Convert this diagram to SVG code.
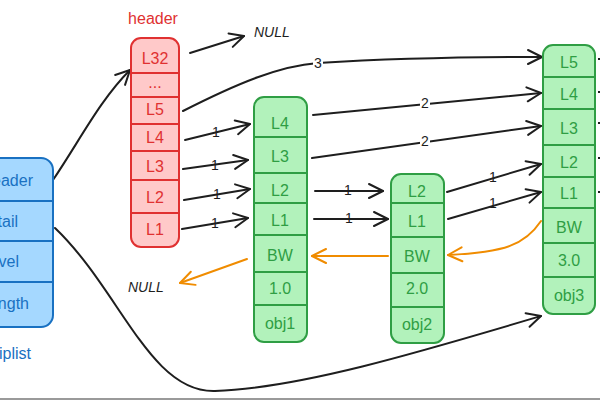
<svg xmlns="http://www.w3.org/2000/svg" width="600" height="400" viewBox="0 0 600 400">
<defs>
<style>
.t{font-family:"Liberation Sans","DejaVu Sans",sans-serif;font-size:16px;text-anchor:middle;dominant-baseline:central}
.blue rect{fill:#a5d8ff;stroke:#1971c2;stroke-width:2}
.blue line{stroke:#1971c2;stroke-width:2}
.blue text{fill:#1971c2}
.red rect{fill:#ffc9c9;stroke:#e03131;stroke-width:2}
.red line{stroke:#e03131;stroke-width:2}
.red text{fill:#e03131}
.green rect{fill:#b2f2bb;stroke:#2f9e44;stroke-width:2}
.green line{stroke:#2f9e44;stroke-width:2}
.green text{fill:#2f9e44}
.a{fill:none;stroke:#1e1e1e;stroke-width:2;stroke-linecap:round;marker-end:url(#ah)}
.o{fill:none;stroke:#f08c00;stroke-width:2;stroke-linecap:round;marker-end:url(#oh)}
.lb{font-family:"Liberation Sans","DejaVu Sans",sans-serif;font-size:14px;fill:#1e1e1e;text-anchor:middle;dominant-baseline:central}
.bg{fill:#ffffff}
.null{font-family:"Liberation Sans","DejaVu Sans",sans-serif;font-size:14px;fill:#1e1e1e;font-style:italic}
</style>
<marker id="ah" markerUnits="userSpaceOnUse" viewBox="0 0 18 18" markerWidth="18" markerHeight="18" refX="16" refY="9" orient="auto">
<path d="M2,2 L16,9 L2,16" fill="none" stroke="#1e1e1e" stroke-width="2" stroke-linecap="round" stroke-linejoin="round"/>
</marker>
<marker id="oh" markerUnits="userSpaceOnUse" viewBox="0 0 18 18" markerWidth="18" markerHeight="18" refX="16" refY="9" orient="auto">
<path d="M2,2 L16,9 L2,16" fill="none" stroke="#f08c00" stroke-width="2" stroke-linecap="round" stroke-linejoin="round"/>
</marker>
</defs>
<rect width="600" height="400" fill="#ffffff"/>

<g id="connectors">
<path class="a" d="M53,180 C80,140 100,100 130,70"/>
<path class="a" d="M55,228 C120,290 150,393 215,391 C300,388 420,352 541,316"/>
<path class="a" d="M190,53 L244,36"/>
<path class="a" d="M183,111 C240,82 280,66 318,63 C400,58 480,57 542,57"/>
<path class="a" d="M185,140 L250,124"/>
<path class="a" d="M183,169 L248,160"/>
<path class="a" d="M184,200 L250,189"/>
<path class="a" d="M182,229 L248,218"/>
<path class="a" d="M313,115 L541,93"/>
<path class="a" d="M312,158 L541,126"/>
<path class="a" d="M315,191 L383,191"/>
<path class="a" d="M314,219 L388,219"/>
<path class="a" d="M447,192 L541,164"/>
<path class="a" d="M448,219 L541,192"/>
<path class="o" d="M541,221 C525,245 505,252 448,255"/>
<path class="o" d="M388,256 L312,256"/>
<path class="o" d="M247,259 L180,283"/>
<g stroke="#1e1e1e" stroke-width="2">
<line x1="598" y1="59" x2="602" y2="59"/>
<line x1="598" y1="92" x2="602" y2="92"/>
<line x1="598" y1="123" x2="602" y2="123"/>
<line x1="598" y1="158" x2="602" y2="158"/>
<line x1="598" y1="192" x2="602" y2="192"/>
</g>
<rect class="bg" x="313" y="55" width="10" height="15"/><text class="lb" x="318" y="63">3</text>
<rect class="bg" x="420" y="96" width="10" height="15"/><text class="lb" x="425" y="103">2</text>
<rect class="bg" x="420" y="134" width="10" height="15"/><text class="lb" x="425" y="141">2</text>
<text class="lb" x="216" y="132">1</text>
<text class="lb" x="215" y="165">1</text>
<text class="lb" x="217" y="194">1</text>
<text class="lb" x="215" y="223">1</text>
<text class="lb" x="348" y="190">1</text>
<text class="lb" x="349" y="218">1</text>
<text class="lb" x="493" y="177">1</text>
<text class="lb" x="493" y="203">1</text>
</g>

<g id="null-top"><text class="null" x="254" y="37">NULL</text></g>
<g id="null-left"><text class="null" x="128" y="292">NULL</text></g>

<g id="zskiplist" class="blue">
<rect x="-45" y="158" width="98" height="169" rx="12"/>
<line x1="-45" y1="201" x2="53" y2="201"/>
<line x1="-45" y1="241" x2="53" y2="241"/>
<line x1="-45" y1="282" x2="53" y2="282"/>
<text class="t" x="33" y="180" style="text-anchor:end">header</text>
<text class="t" x="18" y="221" style="text-anchor:end">tail</text>
<text class="t" x="19" y="261" style="text-anchor:end">level</text>
<text class="t" x="29" y="303" style="text-anchor:end">length</text>
<text class="t" x="31" y="353" style="text-anchor:end">zskiplist</text>
</g>

<g id="header" class="red">
<text class="t" x="153" y="18">header</text>
<rect x="131" y="38" width="48" height="209" rx="10"/>
<line x1="131" y1="73" x2="179" y2="73"/>
<line x1="131" y1="97" x2="179" y2="97"/>
<line x1="131" y1="124" x2="179" y2="124"/>
<line x1="131" y1="151" x2="179" y2="151"/>
<line x1="131" y1="180" x2="179" y2="180"/>
<line x1="131" y1="213" x2="179" y2="213"/>
<text class="t" x="155" y="58">L32</text>
<text class="t" x="155" y="82">...</text>
<text class="t" x="155" y="109">L5</text>
<text class="t" x="155" y="137">L4</text>
<text class="t" x="155" y="166">L3</text>
<text class="t" x="155" y="197">L2</text>
<text class="t" x="155" y="229">L1</text>
</g>

<g id="obj1" class="green">
<rect x="254" y="97" width="53" height="245" rx="10"/>
<line x1="254" y1="137" x2="307" y2="137"/>
<line x1="254" y1="173" x2="307" y2="173"/>
<line x1="254" y1="203" x2="307" y2="203"/>
<line x1="254" y1="235" x2="307" y2="235"/>
<line x1="254" y1="272" x2="307" y2="272"/>
<line x1="254" y1="305" x2="307" y2="305"/>
<text class="t" x="280" y="123">L4</text>
<text class="t" x="280" y="156">L3</text>
<text class="t" x="280" y="190">L2</text>
<text class="t" x="280" y="220">L1</text>
<text class="t" x="280" y="255">BW</text>
<text class="t" x="280" y="288">1.0</text>
<text class="t" x="280" y="323">obj1</text>
</g>

<g id="obj2" class="green">
<rect x="391" y="174" width="53" height="169" rx="10"/>
<line x1="391" y1="203" x2="444" y2="203"/>
<line x1="391" y1="237" x2="444" y2="237"/>
<line x1="391" y1="273" x2="444" y2="273"/>
<line x1="391" y1="307" x2="444" y2="307"/>
<text class="t" x="417" y="191">L2</text>
<text class="t" x="417" y="221">L1</text>
<text class="t" x="417" y="256">BW</text>
<text class="t" x="417" y="288">2.0</text>
<text class="t" x="417" y="324">obj2</text>
</g>

<g id="obj3" class="green">
<rect x="543" y="45" width="52" height="269" rx="10"/>
<line x1="543" y1="77" x2="595" y2="77"/>
<line x1="543" y1="109" x2="595" y2="109"/>
<line x1="543" y1="145" x2="595" y2="145"/>
<line x1="543" y1="177" x2="595" y2="177"/>
<line x1="543" y1="208" x2="595" y2="208"/>
<line x1="543" y1="243" x2="595" y2="243"/>
<line x1="543" y1="277" x2="595" y2="277"/>
<text class="t" x="569" y="62">L5</text>
<text class="t" x="569" y="94">L4</text>
<text class="t" x="569" y="128">L3</text>
<text class="t" x="569" y="162">L2</text>
<text class="t" x="569" y="193">L1</text>
<text class="t" x="569" y="227">BW</text>
<text class="t" x="569" y="260">3.0</text>
<text class="t" x="569" y="295">obj3</text>
</g>

<rect x="0" y="398" width="600" height="2" fill="#9a9a9a"/>
</svg>
